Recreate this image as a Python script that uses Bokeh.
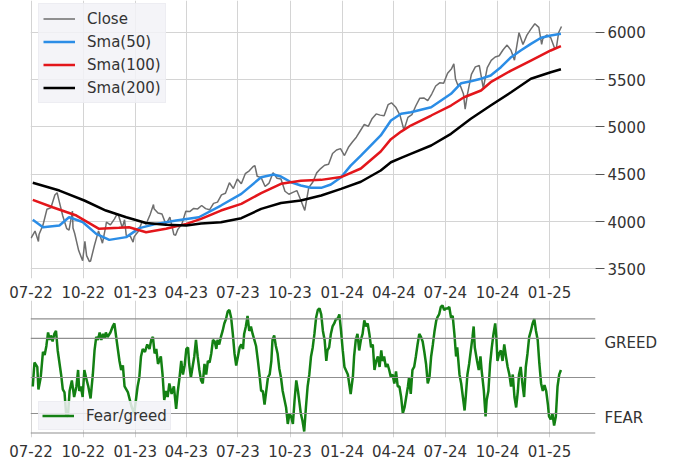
import pandas as pd
from bokeh.plotting import figure
from bokeh.layouts import column
from bokeh.models import Range1d, FixedTicker, DatetimeTickFormatter, Span
from bokeh.embed import file_html
from bokeh.resources import INLINE

FONT = "DejaVu Sans"
TEXT = "#333333"

quarter_labels = ["07-22", "10-22", "01-23", "04-23", "07-23", "10-23",
                  "01-24", "04-24", "07-24", "10-24", "01-25"]
price_ticks = [3500, 4000, 4500, 5000, 5500, 6000]

close_dates = [
    "2022-07-01", "2022-07-08", "2022-07-14", "2022-07-15", "2022-07-22", "2022-07-29",
    "2022-08-05", "2022-08-12", "2022-08-16", "2022-08-19", "2022-08-26",
    "2022-09-02", "2022-09-06", "2022-09-12", "2022-09-13", "2022-09-16", "2022-09-23", "2022-09-30",
    "2022-10-04", "2022-10-07", "2022-10-12", "2022-10-14", "2022-10-21", "2022-10-28",
    "2022-11-04", "2022-11-10", "2022-11-11", "2022-11-18", "2022-11-25", "2022-11-30",
    "2022-12-02", "2022-12-09", "2022-12-13", "2022-12-16", "2022-12-23", "2022-12-28", "2022-12-30",
    "2023-01-06", "2023-01-13", "2023-01-20", "2023-01-27",
    "2023-02-02", "2023-02-03", "2023-02-10", "2023-02-17", "2023-02-24",
    "2023-03-03", "2023-03-10", "2023-03-13", "2023-03-17", "2023-03-24", "2023-03-31",
    "2023-04-07", "2023-04-14", "2023-04-21", "2023-04-28",
    "2023-05-05", "2023-05-12", "2023-05-19", "2023-05-26",
    "2023-06-02", "2023-06-09", "2023-06-16", "2023-06-23", "2023-06-30",
    "2023-07-07", "2023-07-14", "2023-07-21", "2023-07-28", "2023-07-31",
    "2023-08-04", "2023-08-11", "2023-08-18", "2023-08-25",
    "2023-09-01", "2023-09-08", "2023-09-15", "2023-09-22", "2023-09-29",
    "2023-10-06", "2023-10-13", "2023-10-20", "2023-10-27",
    "2023-11-03", "2023-11-10", "2023-11-17", "2023-11-24",
    "2023-12-01", "2023-12-08", "2023-12-15", "2023-12-22", "2023-12-29",
    "2024-01-05", "2024-01-12", "2024-01-19", "2024-01-26",
    "2024-02-02", "2024-02-09", "2024-02-16", "2024-02-23",
    "2024-03-01", "2024-03-08", "2024-03-15", "2024-03-22", "2024-03-28",
    "2024-04-05", "2024-04-12", "2024-04-19", "2024-04-26",
    "2024-05-03", "2024-05-10", "2024-05-17", "2024-05-24", "2024-05-31",
    "2024-06-07", "2024-06-14", "2024-06-21", "2024-06-28",
    "2024-07-05", "2024-07-12", "2024-07-16", "2024-07-19", "2024-07-24", "2024-07-26",
    "2024-08-02", "2024-08-05", "2024-08-09", "2024-08-16", "2024-08-23", "2024-08-30",
    "2024-09-06", "2024-09-13", "2024-09-20", "2024-09-27",
    "2024-10-04", "2024-10-11", "2024-10-18", "2024-10-25", "2024-10-31",
    "2024-11-08", "2024-11-15", "2024-11-22", "2024-11-29",
    "2024-12-06", "2024-12-13", "2024-12-18", "2024-12-20", "2024-12-27",
    "2025-01-03", "2025-01-10", "2025-01-13", "2025-01-17", "2025-01-22",
]
close_values = [
    3825, 3899, 3790, 3863, 3962, 4130,
    4145, 4280, 4305, 4228, 4058,
    3924, 3908, 4110, 3932, 3873, 3693, 3586,
    3791, 3639, 3577, 3583, 3752, 3901,
    3771, 3956, 3993, 3965, 4026, 4080,
    4072, 3934, 4019, 3852, 3845, 3783, 3840,
    3895, 3999, 3973, 4071,
    4179, 4136, 4090, 4079, 3970,
    4046, 3862, 3855, 3917, 3971, 4109,
    4105, 4138, 4133, 4169,
    4136, 4124, 4192, 4205,
    4282, 4299, 4410, 4348, 4450,
    4399, 4505, 4536, 4582, 4589,
    4478, 4464, 4370, 4406,
    4516, 4457, 4450, 4320, 4288,
    4308, 4327, 4224, 4117,
    4358, 4415, 4514, 4559,
    4595, 4604, 4719, 4755, 4770,
    4697, 4784, 4840, 4891,
    4959, 5027, 5006, 5089,
    5137, 5124, 5117, 5234, 5254,
    5204, 5123, 4967, 5100,
    5128, 5223, 5303, 5305, 5278,
    5347, 5432, 5465, 5460,
    5567, 5615, 5667, 5505, 5427, 5459,
    5346, 5186, 5344, 5554, 5634, 5648,
    5408, 5626, 5703, 5738,
    5751, 5815, 5864, 5808, 5705,
    5995, 5870, 5969, 6032,
    6090, 6051, 5872, 5930, 5971,
    5942, 5827, 5836, 5997, 6060,
]

# moving averages (days after 2022-07-01)
sma50_days = [3, 21, 50, 67, 91, 115, 138, 168, 191, 221,
              256, 296, 335, 371, 406, 428, 441, 459, 476, 494,
              512, 529, 547, 564, 582, 617, 635, 653, 670, 706,
              741, 759, 776, 794, 811, 829, 847, 864, 882, 900,
              917, 935]
sma50_values = [4018, 3940, 3958, 4045, 3995, 3870, 3806, 3835, 3930, 3975,
                4010, 4045, 4169, 4292, 4468, 4497, 4475, 4415, 4380, 4356,
                4356, 4391, 4468, 4590, 4697, 4909, 5067, 5138, 5155, 5208,
                5349, 5461, 5482, 5508, 5543, 5630, 5736, 5807, 5877, 5941,
                5965, 5983]

sma100_days = [3, 38, 80, 120, 155, 173, 203, 238, 274, 300,
               335, 371, 406, 441, 476, 512, 547, 582, 617, 635,
               653, 670, 706, 741, 764, 794, 811, 847, 882, 917,
               935]
sma100_values = [4229, 4151, 4063, 3923, 3933, 3940, 3887, 3923, 3975, 4028,
                 4116, 4187, 4300, 4398, 4430, 4440, 4470, 4560, 4740, 4870,
                 4950, 5014, 5120, 5225, 5313, 5384, 5472, 5595, 5701, 5807,
                 5852]

sma200_days = [3, 50, 94, 132, 168, 203, 238, 274, 300, 335,
               371, 406, 441, 476, 512, 547, 582, 617, 635, 653,
               670, 706, 741, 776, 811, 847, 882, 917, 935]
sma200_values = [4409, 4327, 4222, 4116, 4045, 3985, 3965, 3958, 3978, 3993,
                 4035, 4134, 4195, 4222, 4275, 4345, 4420, 4539, 4626, 4673,
                 4715, 4803, 4926, 5085, 5225, 5366, 5508, 5577, 5609]

fg_days = [
    3, 6, 11, 13, 17, 21, 24, 27, 30, 33, 35, 38, 41, 44, 47, 53, 56, 59, 62, 65,
    68, 72, 76, 80, 83, 85, 88, 91, 94, 97, 101, 105, 109, 112, 115, 118, 121, 124, 127, 130,
    132, 135, 140, 144, 147, 152, 156, 159, 162, 165, 171, 177, 182, 185, 188, 191, 194, 197, 201, 205,
    209, 212, 215, 218, 221, 224, 229, 232, 235, 238, 241, 244, 248, 252, 256, 259, 262, 265, 268, 271,
    274, 277, 279, 282, 285, 288, 291, 294, 297, 300, 303, 306, 309, 312, 315, 318, 321, 324, 327, 329,
    332, 335, 338, 341, 344, 347, 350, 353, 356, 359, 362, 365, 368, 371, 374, 376, 379, 382, 385, 388,
    391, 394, 397, 400, 403, 406, 409, 412, 415, 418, 421, 424, 426, 429, 432, 435, 438, 441, 444, 450,
    453, 456, 459, 462, 465, 468, 471, 473, 476, 479, 482, 485, 488, 491, 494, 497, 500, 503, 506, 509,
    512, 515, 518, 521, 523, 526, 529, 532, 535, 538, 541, 544, 547, 550, 553, 559, 564, 568, 570, 573,
    576, 579, 582, 585, 588, 591, 594, 597, 600, 603, 606, 609, 612, 615, 618, 620, 623, 626, 629, 632,
    635, 638, 641, 644, 647, 650, 653, 656, 659, 662, 665, 667, 670, 673, 676, 679, 682, 685, 688, 691,
    694, 697, 700, 703, 706, 709, 712, 715, 717, 720, 723, 726, 729, 732, 735, 738, 741, 744, 747, 750,
    752, 754, 756, 759, 762, 765, 767, 770, 773, 776, 779, 781, 783, 787, 790, 793, 795, 799, 802, 804,
    807, 810, 813, 816, 819, 821, 823, 826, 829, 832, 835, 838, 841, 844, 847, 850, 853, 856, 859, 861,
    864, 867, 870, 873, 876, 879, 882, 885, 888, 891, 894, 897, 900, 903, 906, 909, 912, 914, 917, 920,
    923, 926, 929, 932, 935,
]
fg_values = [
    44, 60, 57, 42, 50, 67, 65, 71, 80, 75, 78, 74, 79, 81, 68, 52, 42, 40, 25, 24,
    41, 48, 37, 44, 55, 41, 44, 37, 55, 50, 44, 36, 52, 68, 77, 75, 80, 75, 79, 76,
    80, 77, 80, 84, 86, 72, 61, 55, 58, 44, 40, 31, 26, 35, 44, 50, 64, 69, 67, 72,
    69, 75, 77, 66, 69, 59, 64, 52, 35, 41, 37, 46, 39, 44, 29, 41, 50, 61, 52, 58,
    69, 70, 59, 50, 57, 64, 75, 64, 55, 48, 46, 59, 52, 61, 60, 66, 75, 74, 69, 75,
    72, 77, 81, 86, 89, 94, 95, 90, 79, 66, 58, 64, 70, 72, 69, 79, 84, 91, 81, 84,
    79, 75, 71, 62, 52, 41, 41, 32, 41, 50, 52, 61, 75, 78, 71, 66, 56, 50, 41, 30,
    19, 26, 24, 19, 35, 48, 41, 35, 26, 21, 14, 30, 44, 52, 64, 70, 79, 90, 95, 96,
    92, 81, 75, 61, 68, 70, 79, 84, 86, 89, 89, 92, 81, 68, 57, 52, 39, 51, 64, 75,
    79, 68, 75, 79, 88, 84, 86, 79, 70, 72, 55, 61, 64, 57, 68, 61, 64, 57, 59, 55,
    50, 52, 46, 54, 44, 44, 37, 26, 30, 37, 44, 50, 39, 55, 57, 64, 72, 79, 77, 74,
    67, 59, 46, 50, 64, 72, 81, 88, 90, 92, 97, 98, 95, 96, 96, 97, 90, 91, 79, 64,
    70, 61, 52, 46, 37, 28, 37, 52, 59, 68, 77, 84, 70, 61, 55, 64, 55, 41, 24, 35,
    41, 59, 70, 79, 86, 77, 61, 66, 68, 61, 72, 64, 57, 52, 44, 52, 37, 30, 41, 52,
    57, 46, 37, 57, 66, 77, 81, 86, 89, 81, 75, 59, 46, 41, 45, 41, 32, 24, 22, 26,
    18, 24, 44, 52, 55,
]
fg_levels = [89, 76, 50, 26, 13]
fg_ticks = {73: "GREED", 23: "FEAR"}

start = pd.Timestamp("2022-07-01")


def from_days(days):
    return start + pd.to_timedelta(days, unit="D")


tick_dates = pd.to_datetime(["20" + q[3:] + "-" + q[:2] + "-01" for q in quarter_labels])
date_ticker = FixedTicker(ticks=[t.timestamp() * 1000 for t in tick_dates])
date_format = DatetimeTickFormatter(days="%m-%y", months="%m-%y", years="%m-%y")
x_range = Range1d(pd.Timestamp("2022-06-30"), pd.Timestamp("2025-03-23"))


def style(p):
    p.outline_line_color = None
    p.background_fill_color = "white"
    p.xaxis.ticker = date_ticker
    p.xaxis.formatter = date_format
    p.xgrid.ticker = date_ticker
    p.grid.grid_line_color = "#d4d4d4"
    for ax in p.axis:
        ax.axis_line_color = None
        ax.minor_tick_line_color = None
        ax.major_label_text_font = FONT
        ax.major_label_text_font_size = "15px"
        ax.major_label_text_color = TEXT
    p.xaxis.major_tick_line_color = None
    p.xaxis.major_tick_out = 0


def style_legend(lg):
    lg.label_text_font = FONT
    lg.label_text_font_size = "15px"
    lg.label_text_color = TEXT
    lg.background_fill_color = "#f2f2f7"
    lg.background_fill_alpha = 0.85
    lg.border_line_color = "#e6e6ec"
    lg.glyph_width = 32
    lg.glyph_height = 21
    lg.label_height = 21
    lg.label_standoff = 12
    lg.spacing = 2
    lg.padding = 4
    lg.margin = 0


p = figure(x_axis_type="datetime", x_range=x_range, y_range=Range1d(3398, 6335),
           frame_width=565, frame_height=278, y_axis_location="right",
           toolbar_location=None, output_backend="svg",
           min_border_left=30, min_border_top=0, min_border_bottom=0, min_border_right=10)
style(p)
p.yaxis.ticker = FixedTicker(ticks=price_ticks)
p.ygrid.ticker = FixedTicker(ticks=price_ticks)
p.yaxis.major_tick_in = 0
p.yaxis.major_tick_out = 9
p.yaxis.major_tick_line_color = "#555555"
p.yaxis.major_label_standoff = 3
p.xaxis.major_label_standoff = 7

p.line(pd.to_datetime(close_dates), close_values, color="#6e6e6e", line_width=1.5, legend_label="Close")
p.line(from_days(sma50_days), sma50_values, color="#2b8de6", line_width=2.5, legend_label="Sma(50)")
p.line(from_days(sma100_days), sma100_values, color="#e3161b", line_width=2.5, legend_label="Sma(100)")
p.line(from_days(sma200_days), sma200_values, color="black", line_width=2.5, legend_label="Sma(200)")
style_legend(p.legend[0])
p.legend.location = (8, 175)

p2 = figure(x_axis_type="datetime", x_range=x_range, y_range=Range1d(10, 101.3),
            frame_width=565, frame_height=137, y_axis_location="right",
            toolbar_location=None, output_backend="svg",
            min_border_left=30, min_border_top=0, min_border_right=10)
style(p2)
p2.ygrid.visible = False
p2.yaxis.ticker = FixedTicker(ticks=list(fg_ticks))
p2.yaxis.major_label_overrides = fg_ticks
p2.yaxis.major_tick_line_color = None
p2.yaxis.major_tick_out = 0
p2.yaxis.major_tick_in = 0
p2.yaxis.major_label_standoff = 9
p2.xaxis.major_label_standoff = 7
for lvl in fg_levels:
    p2.add_layout(Span(location=lvl, dimension="width", line_color="#8f8f8f", line_width=1.2))
p2.line(from_days(fg_days), fg_values, color="#138013", line_width=2.5, legend_label="Fear/greed")
style_legend(p2.legend[0])
p2.legend.padding = 3
p2.legend.location = (8, 7)

layout = column(p, p2)
open("out.html", "w").write(file_html(layout, INLINE))
